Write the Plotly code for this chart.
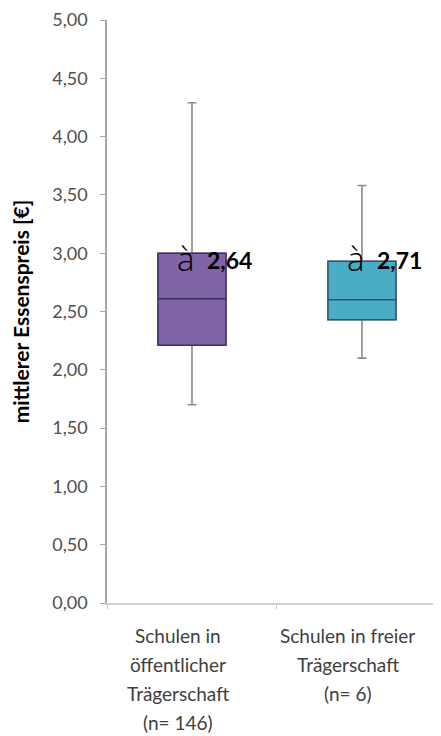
import plotly.graph_objects as go

categories = ["Schulen in<br>öffentlicher<br>Trägerschaft<br>(n= 146)",
              "Schulen in freier<br>Trägerschaft<br>(n= 6)"]
lower_whisker = [1.70, 2.10]
q1 = [2.21, 2.43]
median = [2.61, 2.60]
q3 = [3.00, 2.93]
upper_whisker = [4.29, 3.58]
means = [2.64, 2.71]
fill_colors = ["#8064A8", "#4BACC6"]
edge_colors = ["#3F2D5E", "#2B5868"]
y_ticks = [0, 0.5, 1, 1.5, 2, 2.5, 3, 3.5, 4, 4.5, 5]

FONT = "Lato"
xpos = [0, 1]

fig = go.Figure()
for i in range(len(categories)):
    # whiskers (gray)
    fig.add_trace(go.Box(
        x=[xpos[i]], q1=[q1[i]], median=[median[i]], q3=[q3[i]],
        lowerfence=[lower_whisker[i]], upperfence=[upper_whisker[i]],
        width=0.4, whiskerwidth=0.13, fillcolor="rgba(0,0,0,0)",
        line=dict(color="#8A8A8A", width=1.6), showlegend=False,
        hoverinfo="skip"))
    # box body
    fig.add_trace(go.Box(
        x=[xpos[i]], q1=[q1[i]], median=[median[i]], q3=[q3[i]],
        lowerfence=[q1[i]], upperfence=[q3[i]],
        width=0.4, whiskerwidth=0, fillcolor=fill_colors[i],
        line=dict(color=edge_colors[i], width=1.5), showlegend=False))

annotations = []
for i in range(len(categories)):
    annotations.append(dict(
        x=xpos[i] - 0.1, y=2.955, xref="x", yref="y", xanchor="left", yanchor="middle",
        text="à", showarrow=False,
        font=dict(family="Open Sans", size=33, weight=300, color="#000000")))
    annotations.append(dict(
        x=xpos[i] + 0.075, y=2.945, xref="x", yref="y", xanchor="left", yanchor="middle",
        text="<b>" + f"{means[i]:.2f}".replace(".", ",") + "</b>", showarrow=False,
        font=dict(family=FONT, size=23, color="#000000")))
    for j, line in enumerate(categories[i].split("<br>")):
        annotations.append(dict(
            x=xpos[i] - 0.085, y=0, xref="x", yref="y", xanchor="center", yanchor="middle",
            yshift=-32 - j * 29.3, text=line, showarrow=False,
            font=dict(family=FONT, size=19, color="#404040")))

fig.update_layout(
    width=441, height=736,
    margin=dict(l=99, r=0, t=12, b=141, autoexpand=False),
    paper_bgcolor="white", plot_bgcolor="white",
    separators=",.",
    boxmode="overlay",
    annotations=annotations,
    xaxis=dict(
        type="linear", range=[-0.5, 1.512], showgrid=False, zeroline=False,
        showticklabels=False, tickvals=[-0.5, 0.5], ticks="outside", ticklen=4,
        tickcolor="#C8C8C8", showline=True, linecolor="#D0D0D0", linewidth=1.5,
        fixedrange=True, automargin=False),
    yaxis=dict(
        range=[0, 5], tickvals=y_ticks, tickformat=".2f", showgrid=False,
        zeroline=False, showline=True, linecolor="#A6A6A6", linewidth=1.5,
        ticks="outside", ticklen=5, tickcolor="#A6A6A6", ticklabelstandoff=9,
        automargin=False,
        tickfont=dict(family=FONT, size=18, color="#505050"),
        title=dict(text="<b>mittlerer Essenspreis [€]</b>", standoff=17,
                   font=dict(family=FONT, size=21, color="#000000"))),
)

fig.write_html("out.html")
